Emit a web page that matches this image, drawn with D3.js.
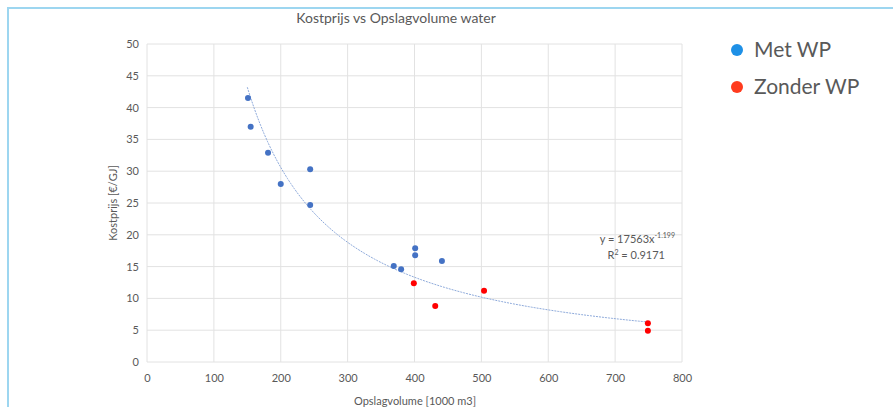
<!DOCTYPE html>
<html lang="en">
<head>
<meta charset="UTF-8">
<title>Kostprijs vs Opslagvolume water</title>
<script src="https://d3js.org/d3.v7.min.js"></script>
<style>
    body { margin: 0; padding: 0; background: #fff; font-family: Lato, "Open Sans", sans-serif; }
    svg { display: block; }
</style>
</head>
<body>
<div id="wrapper"></div>
<script>
// data
const metX = [151, 155, 181, 200, 244, 244, 401, 401, 441, 369, 380]
const metY = [41.5, 37.0, 32.9, 28.0, 30.3, 24.7, 17.9, 16.8, 15.9, 15.1, 14.6]
const zonderX = [399, 431, 504, 749, 749]
const zonderY = [12.4, 8.8, 11.2, 6.1, 4.9]
const xTicks = [0, 100, 200, 300, 400, 500, 600, 700, 800]
const yTicks = [0, 5, 10, 15, 20, 25, 30, 35, 40, 45, 50]
const trendCoef = 17563
const trendExp = -1.199
const trendRange = [150, 750]
const legendLabels = ["Met WP", "Zonder WP"]

const width = 893, height = 407
const margin = {top: 44, right: 211, bottom: 45, left: 147}

const svg = d3.select("#wrapper").append("svg")
    .attr("width", width)
    .attr("height", height)

// light blue frame around the chart object
svg.append("path")
    .attr("d", `M8,${height} V8 H${width}`)
    .attr("fill", "none")
    .attr("stroke", "#9dd6f0")
    .attr("stroke-width", 2)

const x = d3.scaleLinear().domain([0, 800]).range([margin.left, width - margin.right])
const y = d3.scaleLinear().domain([0, 50]).range([height - margin.bottom, margin.top])

// gridlines
svg.append("g").selectAll("line").data(yTicks).join("line")
    .attr("x1", x(0)).attr("x2", x(800))
    .attr("y1", d => y(d)).attr("y2", d => y(d))
    .attr("stroke", "#e2e2e2").attr("stroke-width", 1)
svg.append("g").selectAll("line").data(xTicks).join("line")
    .attr("y1", y(0)).attr("y2", y(50))
    .attr("x1", d => x(d)).attr("x2", d => x(d))
    .attr("stroke", "#e2e2e2").attr("stroke-width", 1)

// axes (labels only)
const yAxis = svg.append("g")
    .attr("transform", `translate(${x(0) - 8},0)`)
    .call(d3.axisLeft(y).tickValues(yTicks).tickSize(0).tickPadding(0))
yAxis.select(".domain").remove()
yAxis.selectAll("text").attr("fill", "#595959").attr("font-size", 11).attr("font-family", "Lato, sans-serif")

const xAxis = svg.append("g")
    .attr("transform", `translate(0,${y(0) + 12})`)
    .call(d3.axisBottom(x).tickValues(xTicks).tickSize(0).tickPadding(0))
xAxis.select(".domain").remove()
xAxis.selectAll("text").attr("fill", "#595959").attr("font-size", 11).attr("font-family", "Lato, sans-serif")

// titles
svg.append("text")
    .attr("x", 396).attr("y", 23)
    .attr("text-anchor", "middle")
    .attr("fill", "#595959").attr("font-size", 14)
    .text("Kostprijs vs Opslagvolume water")

svg.append("text")
    .attr("x", 415).attr("y", 405)
    .attr("text-anchor", "middle")
    .attr("fill", "#595959").attr("font-size", 11)
    .text("Opslagvolume [1000 m3]")

svg.append("text")
    .attr("transform", `translate(117,${(y(0) + y(50)) / 2}) rotate(-90)`)
    .attr("text-anchor", "middle")
    .attr("fill", "#595959").attr("font-size", 11)
    .text("Kostprijs [€/GJ]")

// power trendline
const trendPts = d3.range(trendRange[0], trendRange[1] + 1, 5).map(v => [v, trendCoef * Math.pow(v, trendExp)])
svg.append("path")
    .attr("d", d3.line().x(d => x(d[0])).y(d => y(d[1]))(trendPts))
    .attr("fill", "none")
    .attr("stroke", "#8eaadb")
    .attr("stroke-width", 1)
    .attr("stroke-dasharray", "2,1")

// points
const metData = metX.map((v, i) => [v, metY[i]])
const zonderData = zonderX.map((v, i) => [v, zonderY[i]])
svg.append("g").selectAll("circle").data(metData).join("circle")
    .attr("cx", d => x(d[0])).attr("cy", d => y(d[1])).attr("r", 3)
    .attr("fill", "#4472c4")
svg.append("g").selectAll("circle").data(zonderData).join("circle")
    .attr("cx", d => x(d[0])).attr("cy", d => y(d[1])).attr("r", 3)
    .attr("fill", "#ff0000")

// equation label
const eq = svg.append("text")
    .attr("x", 675).attr("y", 243)
    .attr("text-anchor", "end")
    .attr("fill", "#595959").attr("font-size", 11)
eq.append("tspan").text("y = 17563x")
eq.append("tspan").attr("dy", -5).attr("font-size", 7).text(trendExp.toString())
const r2 = svg.append("text")
    .attr("x", 665).attr("y", 259)
    .attr("text-anchor", "end")
    .attr("fill", "#595959").attr("font-size", 11)
r2.append("tspan").text("R")
r2.append("tspan").attr("dy", -4).attr("font-size", 7).text("2")
r2.append("tspan").attr("dy", 4).text(" = 0.9171")

// legend
const legendColors = ["#1e90e6", "#ff3b1e"]
const legend = svg.append("g").selectAll("g").data(legendLabels).join("g")
    .attr("transform", (d, i) => `translate(737,${50 + i * 37})`)
legend.append("circle").attr("r", 6).attr("fill", (d, i) => legendColors[i])
legend.append("text")
    .attr("x", 17).attr("dy", "0.35em")
    .attr("fill", "#595959").attr("font-size", 21)
    .text(d => d)
</script>
</body>
</html>
